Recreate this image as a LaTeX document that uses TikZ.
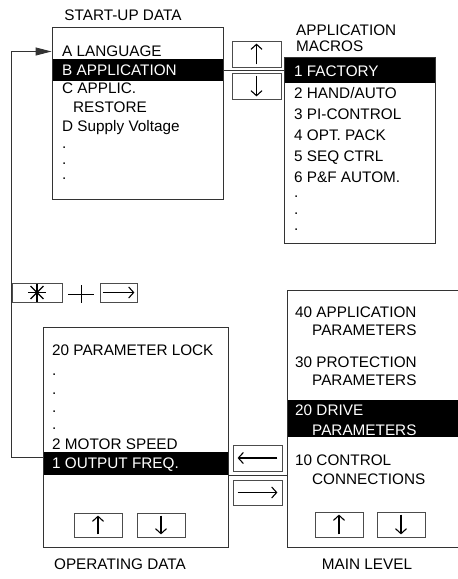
\documentclass[tikz,border=0pt]{standalone}
\usepackage{fontspec}
\setmainfont{Liberation Sans}
\usetikzlibrary{arrows.meta,positioning,calc}

\begin{document}
\begin{tikzpicture}[
    x=1pt, y=-1pt,
    every node/.style={font=\fontsize{15.3}{18}\selectfont},
    panel/.style={draw=black!80, line width=0.9pt, inner sep=0pt},
    bar/.style={fill=black, inner sep=0pt},
    item/.style={anchor=base west, inner sep=0pt},
    sel/.style={anchor=base west, inner sep=0pt, text=white},
    title/.style={anchor=base, inner sep=0pt},
    keybox/.style={draw=black!70, line width=0.8pt, inner sep=0pt},
    glyph/.style={line width=1.1pt, -{Straight Barb[length=5pt,width=11pt]}},
    wire/.style={draw=black!80, line width=0.9pt}
]
\useasboundingbox (0,0) rectangle (458,579);

% START-UP DATA
\node[title] (sutitle) at (123,20.5) {START-UP DATA};
\node[bar, minimum width=171pt, minimum height=22pt] (bbar) at (137.5,70) {};
\node[panel, minimum width=171pt, minimum height=172pt] (startup) at (137.5,113) {};
\node[item] (langa) at (62,56.5) {A LANGUAGE};
\node[sel] (appb) at (62,75.5) {B APPLICATION};
\node[item] (restc) at (62,93.5) {C APPLIC.};
\node[item] (restc2) at (73,112.5) {RESTORE};
\node[item] (voltd) at (62,131.5) {D Supply Voltage};
\node[item] (sudot1) at (62,148) {.};
\node[item] (sudot2) at (62,164) {.};
\node[item] (sudot3) at (62,179) {.};

% APPLICATION MACROS
\node[item] (amtitle1) at (296,35.5) {APPLICATION};
\node[item] (amtitle2) at (296,51.5) {MACROS};
\node[bar, minimum width=151pt, minimum height=26pt] (fbar) at (359.5,70) {};
\node[panel, minimum width=151pt, minimum height=186pt] (macros) at (359.5,150) {};
\node[sel] (mac1) at (294,76.5) {1 FACTORY};
\node[item] (mac2) at (294,98) {2 HAND/AUTO};
\node[item] (mac3) at (294,119) {3 PI-CONTROL};
\node[item] (mac4) at (294,140) {4 OPT. PACK};
\node[item] (mac5) at (294,161) {5 SEQ CTRL};
\node[item] (mac6) at (294,182) {6 P\&F AUTOM.};
\node[item] (amdot1) at (294,197.5) {.};
\node[item] (amdot2) at (294,214) {.};
\node[item] (amdot3) at (294,230) {.};

% OPERATING DATA
\node[bar, minimum width=185pt, minimum height=23pt] (obar) at (135.5,463.5) {};
\node[panel, minimum width=185pt, minimum height=220pt] (operating) at (135.5,437) {};
\node[item] (op20) at (52,355.5) {20 PARAMETER LOCK};
\node[item] (opdot1) at (52,375) {.};
\node[item] (opdot2) at (52,394) {.};
\node[item] (opdot3) at (52,412) {.};
\node[item] (opdot4) at (52,429) {.};
\node[item] (op2) at (52,449) {2 MOTOR SPEED};
\node[sel] (op1) at (52,468) {1 OUTPUT FREQ.};
\node[title] (optitle) at (120,569) {OPERATING DATA};

% MAIN LEVEL
\node[bar, minimum width=172pt, minimum height=37pt] (dbar) at (373,418.5) {};
\node[panel, minimum width=172pt, minimum height=257pt] (mainlevel) at (373,418.5) {};
\node[item] (m40) at (295,317.5) {40 APPLICATION};
\node[item] (m40b) at (312,335.5) {PARAMETERS};
\node[item] (m30) at (295,367.5) {30 PROTECTION};
\node[item] (m30b) at (312,385.5) {PARAMETERS};
\node[sel] (m20) at (295,415.5) {20 DRIVE};
\node[sel] (m20b) at (312,435.5) {PARAMETERS};
\node[item] (m10) at (295,465.5) {10 CONTROL};
\node[item] (m10b) at (312,484) {CONNECTIONS};
\node[title] (mltitle) at (367,569) {MAIN LEVEL};

% keys
\node[keybox, minimum width=49pt, minimum height=26pt] (kup1) at (256.5,54) {};
\node[keybox, minimum width=49pt, minimum height=26pt] (kdown1) at (256.5,86) {};
\node[keybox, minimum width=50pt, minimum height=19pt] (kstar) at (37,292.5) {};
\node[keybox, minimum width=37pt, minimum height=19pt] (kright1) at (118.5,292.5) {};
\coordinate (plus) at (81,294);
\node[keybox, minimum width=48pt, minimum height=24pt] (kup2) at (98,525) {};
\node[keybox, minimum width=48pt, minimum height=24pt] (kdown2) at (161,525) {};
\node[keybox, minimum width=49pt, minimum height=26pt] (kleft) at (257.5,458) {};
\node[keybox, minimum width=49pt, minimum height=25pt] (kright2) at (257.5,492.5) {};
\node[keybox, minimum width=48pt, minimum height=25pt] (kup3) at (339,524.5) {};
\node[keybox, minimum width=48pt, minimum height=25pt] (kdown3) at (401,524.5) {};

% arrows on the keys
\draw[glyph] ($(kup1.south)+(0,-3)$) -- ($(kup1.north)+(0,3)$);
\draw[glyph] ($(kdown1.north)+(0,3)$) -- ($(kdown1.south)+(0,-3)$);
\draw[glyph] ($(kup2.south)+(0,-3)$) -- ($(kup2.north)+(0,3)$);
\draw[glyph] ($(kdown2.north)+(0,3)$) -- ($(kdown2.south)+(0,-3)$);
\draw[glyph] ($(kup3.south)+(0,-3)$) -- ($(kup3.north)+(0,3)$);
\draw[glyph] ($(kdown3.north)+(0,3)$) -- ($(kdown3.south)+(0,-3)$);
\draw[glyph] ($(kright1.west)+(3,0)$) -- ($(kright1.east)+(-3,0)$);
\draw[glyph] ($(kleft.east)+(-5,0)$) -- ($(kleft.west)+(5,0)$);
\draw[glyph] ($(kright2.west)+(5,0)$) -- ($(kright2.east)+(-5,0)$);

% asterisk and plus
\draw[line width=1.1pt] ($(kstar.center)+(0,-9)$) -- ($(kstar.center)+(0,9)$);
\draw[line width=1.1pt] ($(kstar.center)+(-9,0)$) -- ($(kstar.center)+(9,0)$);
\draw[line width=1.1pt] ($(kstar.center)+(-6.4,-6.4)$) -- ($(kstar.center)+(6.4,6.4)$);
\draw[line width=1.1pt] ($(kstar.center)+(-6.4,6.4)$) -- ($(kstar.center)+(6.4,-6.4)$);
\draw[line width=1pt] ($(plus)+(-13,0)$) -- ($(plus)+(13,0)$);
\draw[line width=1pt] ($(plus)+(0,-9)$) -- ($(plus)+(0,9)$);

% connectors
\draw[wire] (bbar.east) -- (bbar.east -| macros.west);
\draw[wire] (obar.south east) -- (obar.south east -| mainlevel.west);
\draw[wire, -{Triangle[length=16pt,width=8pt]}] ([yshift=-20pt]operating.west) -- ++(-31,0) |- ([yshift=61.5pt]startup.west);

\end{tikzpicture}
\end{document}
